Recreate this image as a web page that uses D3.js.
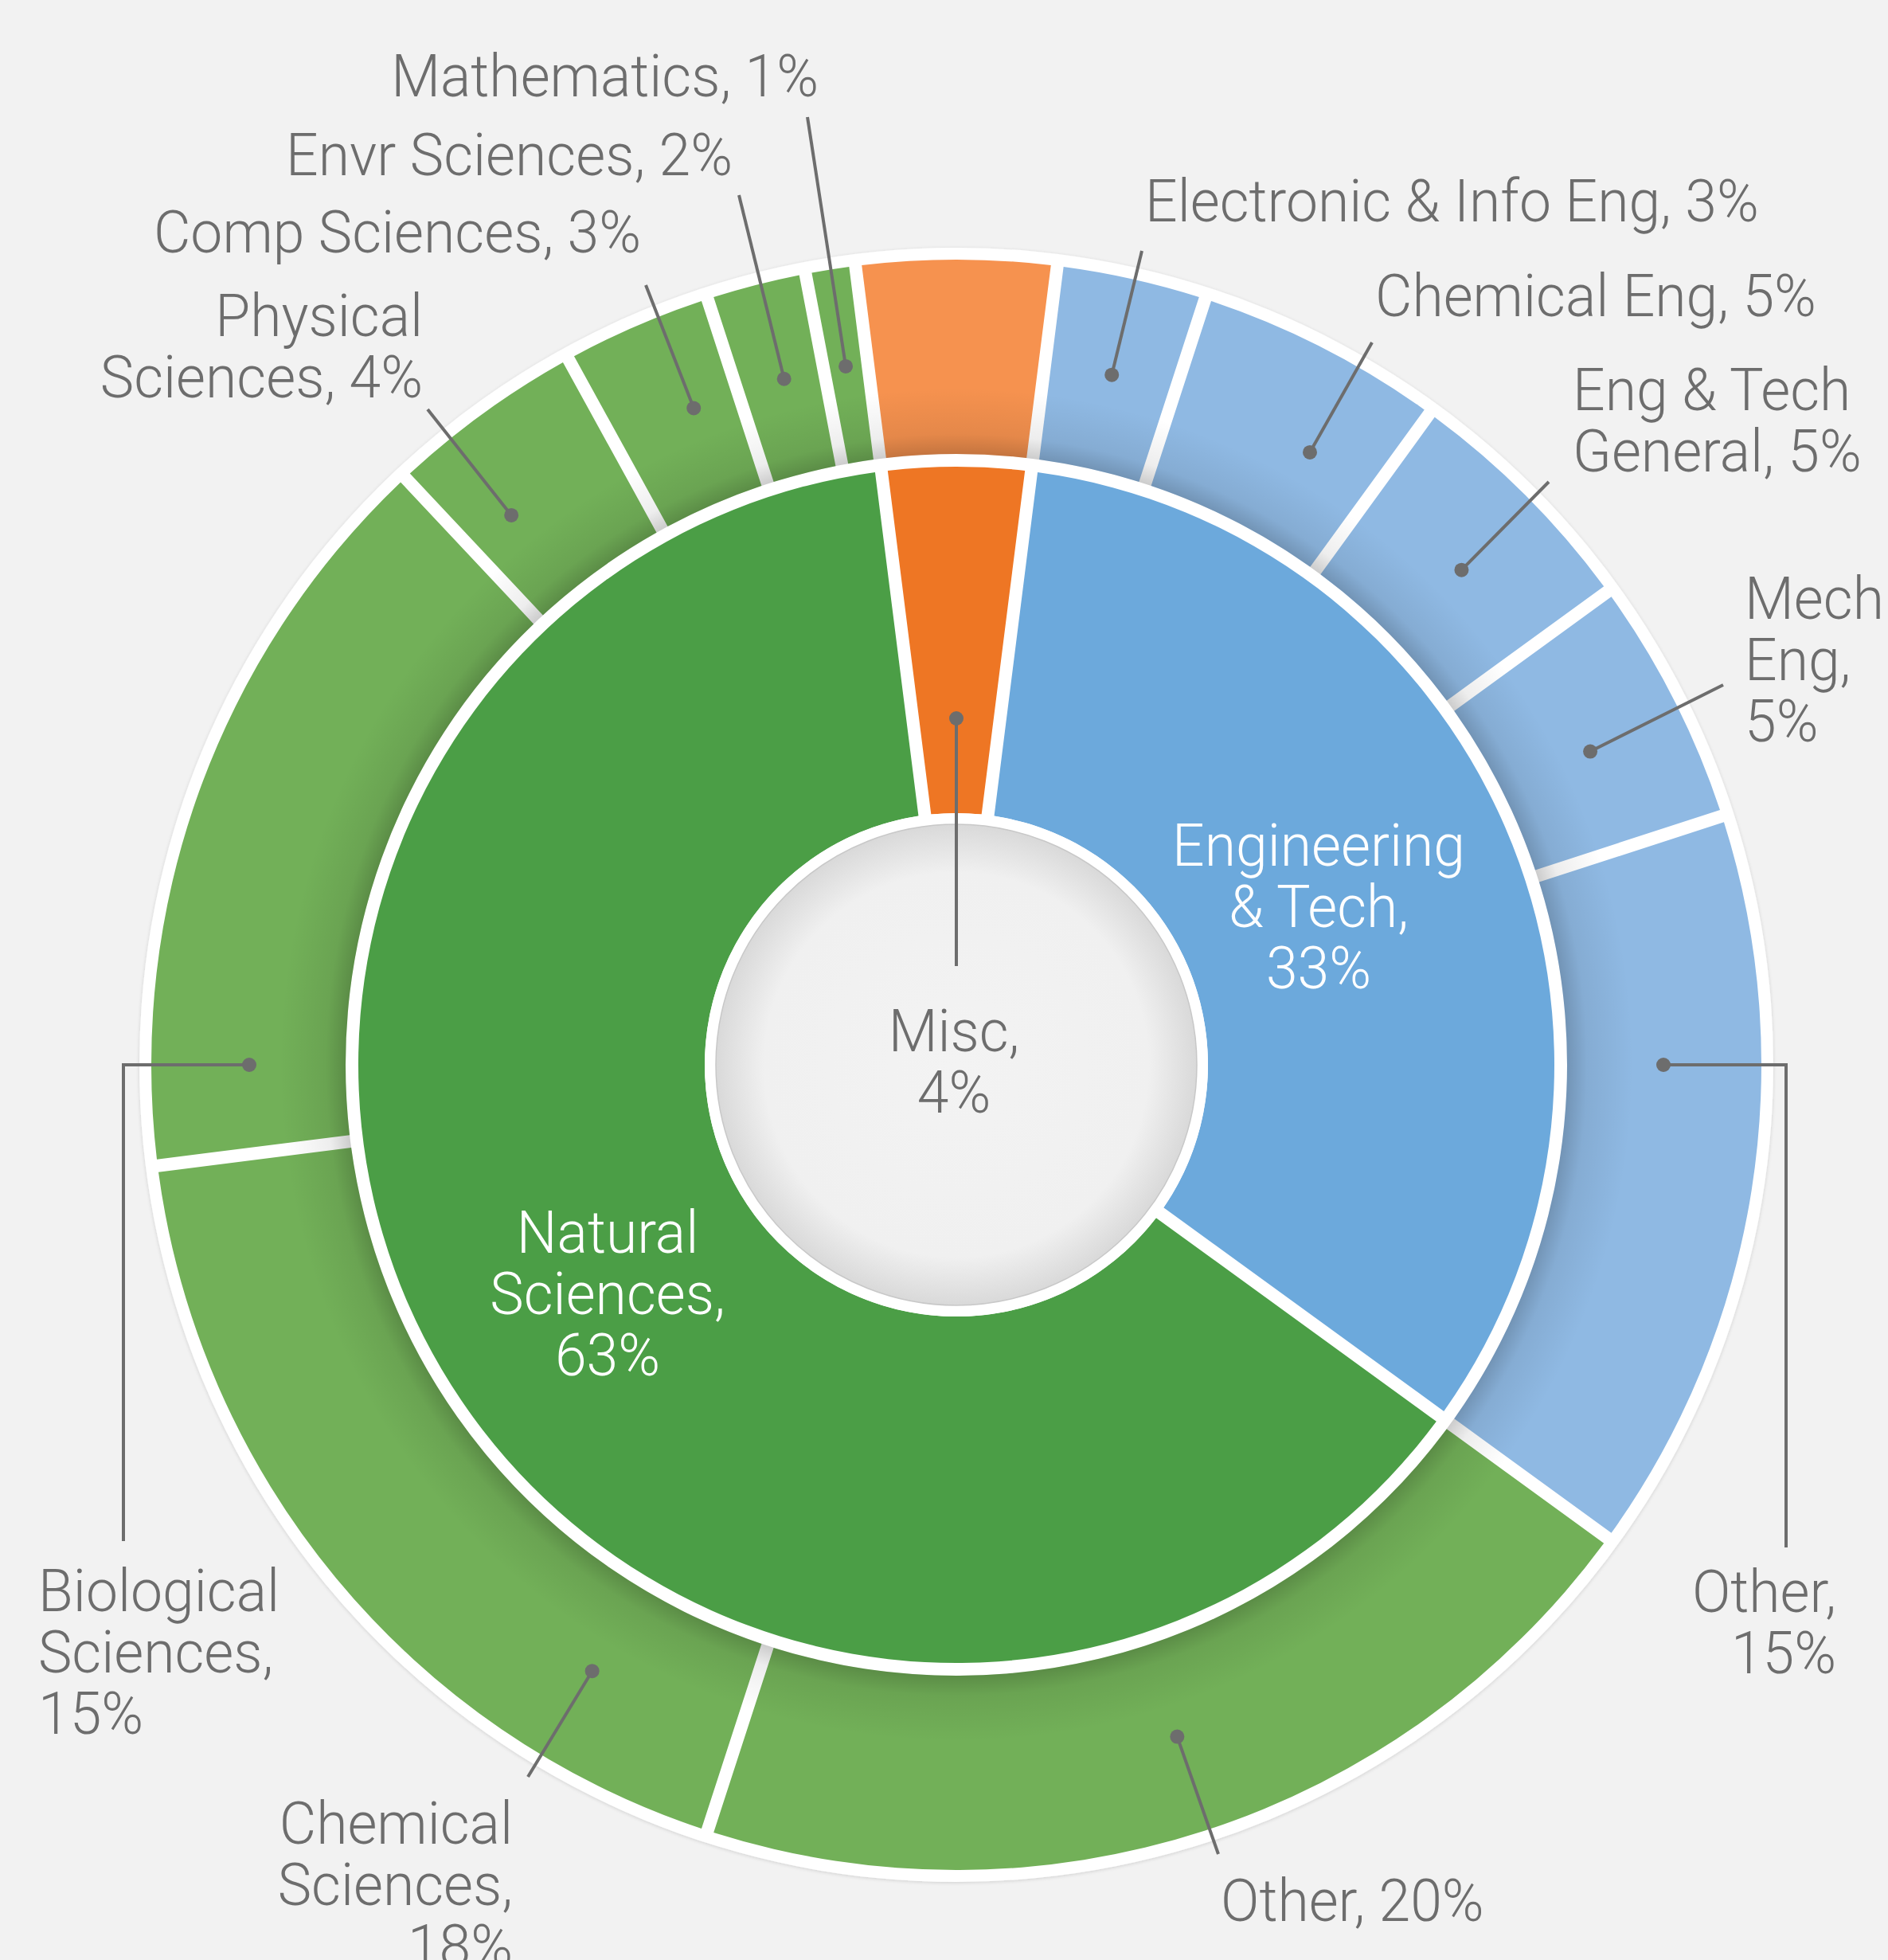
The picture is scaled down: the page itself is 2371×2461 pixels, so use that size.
<!DOCTYPE html>
<html>
<head>
<meta charset="utf-8">
<script src="https://cdn.jsdelivr.net/npm/d3@7"></script>
<style>
html, body { margin: 0; padding: 0; background: #f2f2f2; }
svg { display: block; }
text { font-family: Roboto, "Helvetica Neue", Arial, sans-serif; font-weight: 300; }
</style>
</head>
<body>
<svg id="chart" width="2371" height="2461"></svg>
<script>
// inner ring: broad fields, clockwise starting with Misc at the top
var fieldNames = ['Misc', 'Engineering & Tech', 'Natural Sciences'];
var fieldValues = [4, 33, 63];

// outer ring: sub-fields, clockwise, same start as inner ring
var subNames = ['Misc', 'Electronic & Info Eng', 'Chemical Eng', 'Eng & Tech General', 'Mech Eng', 'Other',
	'Other', 'Chemical Sciences', 'Biological Sciences', 'Physical Sciences', 'Comp Sciences', 'Envr Sciences', 'Mathematics'];
var subValues = [4, 3, 5, 5, 5, 15, 20, 18, 15, 4, 3, 2, 1];
var subField = [0, 1, 1, 1, 1, 1, 2, 2, 2, 2, 2, 2, 2];

var fieldColors = ['#ee7624', '#6ca9dc', '#4b9e46'];
var subColors = ['#f6924f', '#8fb9e3', '#72b058'];

var W = 2371, H = 2461, cx = 1201, cy = 1337;
var r0 = 302, rIn0 = 316, rIn1 = 751, rOut0 = 767, rOut1 = 1011, rDisc = 1026, rDot = 888;
var fs = 75, lh = 77, sx = 0.953;
var grey = '#6d6d6d';

// label placement for the outer ring (index into subNames), words per line, leader path
var subLabels = {
	1:  {x: 1438, y: 278,  anchor: 'start', words: [],     dot: 12.7,  path: [[1434, 315]]},
	2:  {x: 1727, y: 397,  anchor: 'start', words: [],     dot: 30,    path: [[1723, 430]]},
	3:  {x: 1975, y: 515,  anchor: 'start', words: [3],    dot: 45.6,  path: [[1945, 605]]},
	4:  {x: 2191, y: 777,  anchor: 'start', words: [1, 1], dot: 63.7,  path: [[2164, 860]]},
	5:  {x: 2306, y: 2024, anchor: 'end',   words: [1],    dot: 90,    path: [[2243, 1337], [2243, 1943]]},
	6:  {x: 1533, y: 2412, anchor: 'start', words: [],     dot: 161.8, path: [[1530, 2328]]},
	7:  {x: 644,  y: 2315, anchor: 'end',   words: [1, 1], dot: 211,   path: [[663, 2231]]},
	8:  {x: 48,   y: 2023, anchor: 'start', words: [1, 1], dot: 270,   path: [[155, 1337], [155, 1935]]},
	9:  {x: 531,  y: 422,  anchor: 'end',   words: [1],    dot: 321,   path: [[537, 514]]},
	10: {x: 805,  y: 317,  anchor: 'end',   words: [],     dot: 338.2, path: [[811, 358]]},
	11: {x: 920,  y: 220,  anchor: 'end',   words: [],     dot: 345.9, path: [[928, 245]]},
	12: {x: 1028, y: 121,  anchor: 'end',   words: [],     dot: 351,   path: [[1014, 147]]}
};
// labels for the inner ring
var fieldLabels = [
	{x: 1198, y: 1320, words: [1], fill: grey, dot: 0, dotR: 435, path: [[1201, 1213]]},
	{x: 1656, y: 1087, words: [1, 2], fill: '#ffffff'},
	{x: 763,  y: 1573, words: [1, 1], fill: '#ffffff'}
];

var svg = d3.select('#chart');
svg.append('rect').attr('width', W).attr('height', H).attr('fill', '#f2f2f2');

var defs = svg.append('defs');
var shadeR = 850;
var shade = defs.append('radialGradient').attr('id', 'ringShade')
	.attr('gradientUnits', 'userSpaceOnUse').attr('cx', 0).attr('cy', 0).attr('r', shadeR);
shade.append('stop').attr('offset', rOut0 / shadeR).attr('stop-color', '#000').attr('stop-opacity', 0.2);
shade.append('stop').attr('offset', (rOut0 + 25) / shadeR).attr('stop-color', '#000').attr('stop-opacity', 0.07);
shade.append('stop').attr('offset', 1).attr('stop-color', '#000').attr('stop-opacity', 0);

var hub = defs.append('radialGradient').attr('id', 'hubFill');
hub.append('stop').attr('offset', 0).attr('stop-color', '#f3f3f3');
hub.append('stop').attr('offset', 0.8).attr('stop-color', '#f0f0f0');
hub.append('stop').attr('offset', 1).attr('stop-color', '#d9d9d9');

var drop = defs.append('filter').attr('id', 'drop').attr('x', '-10%').attr('y', '-10%').attr('width', '120%').attr('height', '120%');
drop.append('feDropShadow').attr('dx', 0).attr('dy', 1).attr('stdDeviation', 2)
	.attr('flood-color', '#000').attr('flood-opacity', 0.15);

var g = svg.append('g').attr('transform', 'translate(' + cx + ',' + cy + ')');

g.append('circle').attr('r', rDisc).attr('fill', '#ffffff').attr('filter', 'url(#drop)');

var start = -fieldValues[0] / d3.sum(fieldValues) * Math.PI;
var pie = d3.pie().sort(null).startAngle(start).endAngle(start + 2 * Math.PI);

var innerArc = d3.arc().innerRadius(rIn0).outerRadius(rIn1).padAngle(0.016).padRadius(1000);
var outerArc = d3.arc().innerRadius(rOut0).outerRadius(rOut1).padAngle(0.016).padRadius(1000);

g.selectAll('path.sub')
	.data(pie(subValues))
	.enter().append('path')
	.attr('class', 'sub')
	.attr('d', outerArc)
	.attr('fill', function(d, i) { return subColors[subField[i]]; });

// shadow cast by the inner ring onto the outer ring
g.append('path')
	.attr('d', d3.arc().innerRadius(rOut0).outerRadius(shadeR).startAngle(0).endAngle(2 * Math.PI)())
	.attr('fill', 'url(#ringShade)');

g.selectAll('path.field')
	.data(pie(fieldValues))
	.enter().append('path')
	.attr('class', 'field')
	.attr('d', innerArc)
	.attr('fill', function(d, i) { return fieldColors[i]; });

g.append('circle').attr('r', rIn0).attr('fill', '#ffffff');
g.append('circle').attr('r', r0).attr('fill', 'url(#hubFill)').attr('stroke', '#c8c8c8').attr('stroke-width', 1.5);

function splitLines(str, words) {
	var parts = str.split(' '), lines = [], k = 0;
	words.forEach(function(n) { lines.push(parts.slice(k, k + n).join(' ')); k += n; });
	lines.push(parts.slice(k).join(' '));
	return lines;
}

function dotPos(deg, r) {
	var p = d3.pointRadial(deg * Math.PI / 180, r);
	return [cx + p[0], cy + p[1]];
}

function drawLabel(layer, text, lay, anchor, fill) {
	var t = layer.append('text')
		.attr('transform', 'translate(' + lay.x + ',' + lay.y + ') scale(' + sx + ',1)')
		.attr('text-anchor', anchor)
		.attr('font-size', fs)
		.attr('fill', fill);
	splitLines(text, lay.words).forEach(function(line, i) {
		t.append('tspan').attr('x', 0).attr('dy', i ? lh : 0).text(line);
	});
}

function drawLeader(layer, lay, r) {
	var pts = [dotPos(lay.dot, r)].concat(lay.path);
	layer.append('path')
		.attr('d', d3.line()(pts))
		.attr('fill', 'none').attr('stroke', grey).attr('stroke-width', 4);
	layer.append('circle').attr('cx', pts[0][0]).attr('cy', pts[0][1]).attr('r', 9).attr('fill', grey);
}

var labelLayer = svg.append('g');

subNames.forEach(function(name, i) {
	var lay = subLabels[i];
	if (!lay) return;
	drawLeader(labelLayer, lay, rDot);
	drawLabel(labelLayer, name + ', ' + subValues[i] + '%', lay, lay.anchor, grey);
});

fieldNames.forEach(function(name, i) {
	var lay = fieldLabels[i];
	if (lay.path) drawLeader(labelLayer, lay, lay.dotR);
	drawLabel(labelLayer, name + ', ' + fieldValues[i] + '%', lay, 'middle', lay.fill);
});
</script>
</body>
</html>
